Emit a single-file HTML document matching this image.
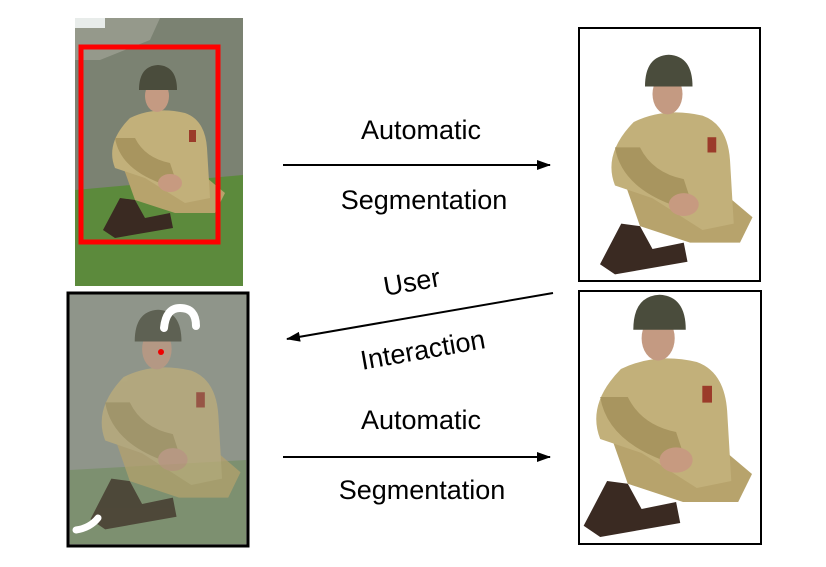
<!DOCTYPE html>
<html><head><style>
html,body{margin:0;padding:0;background:#fff;}
svg{display:block;}
text{font-family:"Liberation Sans",sans-serif;font-size:27px;fill:#000;}
</style></head><body>
<svg width="826" height="567" viewBox="0 0 826 567" xmlns="http://www.w3.org/2000/svg">
<defs>
<marker id="ah" markerWidth="14" markerHeight="10" refX="13" refY="5" orient="auto" markerUnits="userSpaceOnUse">
<path d="M0,0 L14,5 L0,10 Z" fill="#000"/></marker>
<g id="sold">
  <path d="M28,212 L45,180 L60,182 L70,200 L95,195 L98,210 L40,220 Z" fill="#3a2a22"/>
  <path d="M45,140 L60,182 L100,195 L140,195 L150,175 L120,150 Z" fill="#b7a36c"/>
  <path d="M55,100 Q80,88 110,95 Q130,102 132,130 L135,180 L110,185 L70,160 L40,150 Q30,125 55,100 Z" fill="#c2b07a"/>
  <path d="M40,120 Q45,150 85,165 L100,160 L95,145 Q70,140 60,120 Z" fill="#a8955f"/>
  <ellipse cx="95" cy="165" rx="12" ry="9" fill="#c79a80"/>
  <rect x="114" y="112" width="7" height="12" fill="#9b3b2a"/>
  <ellipse cx="82" cy="78" rx="12" ry="16" fill="#c49a82"/>
  <path d="M64,72 Q64,48 83,47 Q102,48 102,72 Z" fill="#4a4c3c"/>
</g>
</defs>

<rect x="75" y="18" width="168" height="268" fill="#7b8272"/>
<path d="M75,18 L160,18 L150,40 L100,60 L75,60 Z" fill="#95998b"/>
<rect x="75" y="18" width="30" height="10" fill="#e8ecea"/>
<path d="M75,190 L243,175 L243,286 L75,286 Z" fill="#5c8a3c"/>
<g transform="translate(75,18)"><use href="#sold"/></g>
<rect x="81" y="47" width="137" height="195" fill="none" stroke="#ff0000" stroke-width="5"/>

<rect x="579" y="28" width="181" height="253" fill="#fff" stroke="#000" stroke-width="2"/>
<g transform="translate(565,-5) scale(1.25 1.27)"><use href="#sold"/></g>

<rect x="68" y="293" width="180" height="253" fill="#8f958a" stroke="#000" stroke-width="3"/>
<path d="M70,470 L246,460 L246,544 L70,544 Z" fill="#7d9070"/>
<g transform="translate(56,250) scale(1.23 1.27)" opacity="0.7"><use href="#sold"/></g>
<path d="M164,328 Q166,308 180,308 Q196,308 196,326" fill="none" stroke="#fff" stroke-width="8" stroke-linecap="round"/>
<path d="M76,530 Q90,528 98,518" fill="none" stroke="#fff" stroke-width="7" stroke-linecap="round"/>
<circle cx="161" cy="352" r="3" fill="#e00"/>

<rect x="579" y="291" width="182" height="253" fill="#fff" stroke="#000" stroke-width="2"/>
<g transform="translate(545,229) scale(1.38 1.4)"><use href="#sold"/></g>

<line x1="283" y1="165" x2="550" y2="165" stroke="#000" stroke-width="2" marker-end="url(#ah)"/>
<text x="421" y="139" text-anchor="middle">Automatic</text>
<text x="424" y="209" text-anchor="middle">Segmentation</text>

<line x1="553" y1="293" x2="287" y2="339" stroke="#000" stroke-width="2" marker-end="url(#ah)"/>
<text x="412" y="291" text-anchor="middle" transform="rotate(-10 412 283)">User</text>
<text x="423" y="359" text-anchor="middle" transform="rotate(-10 423 351)">Interaction</text>

<line x1="283" y1="457" x2="550" y2="457" stroke="#000" stroke-width="2" marker-end="url(#ah)"/>
<text x="421" y="429" text-anchor="middle">Automatic</text>
<text x="422" y="499" text-anchor="middle">Segmentation</text>
</svg>
</body></html>
